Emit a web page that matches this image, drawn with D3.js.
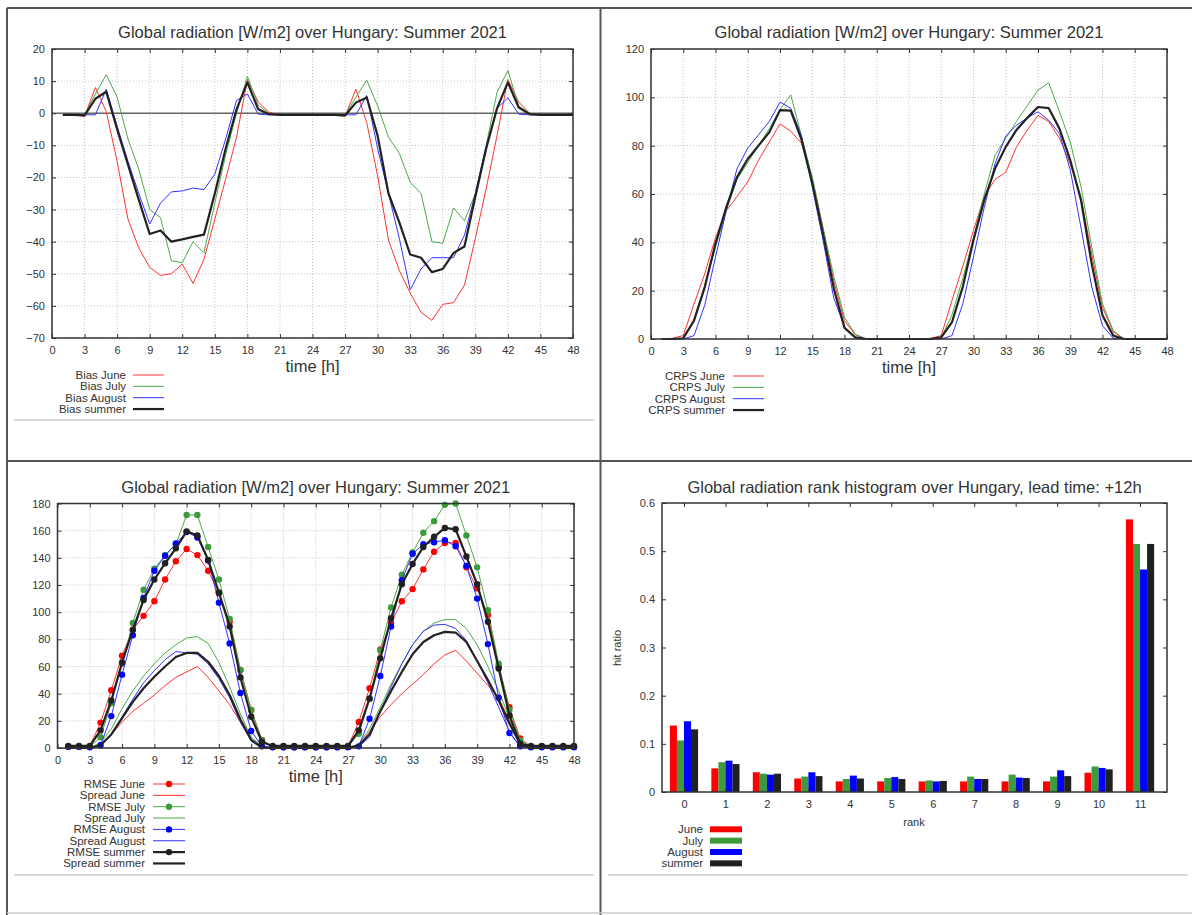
<html>
<head>
<meta charset="UTF-8" />
<script src="https://cdnjs.cloudflare.com/ajax/libs/d3/7.8.5/d3.min.js"></script>
<style>
  body { margin: 0; background: #fff; }
  svg text { font-family: "Liberation Sans", Arial, sans-serif; fill: #333; }
</style>
</head>
<body>
<svg id="page" width="1192" height="915"></svg>
<script>
// ---- data ----
const hours = d3.range(1, 49);
const timeTicks = [0, 3, 6, 9, 12, 15, 18, 21, 24, 27, 30, 33, 36, 39, 42, 45, 48];

const biasJune = [-0.5, -0.5, -1, 8, 0.5, -15, -33, -42, -48, -50.5, -50, -47,
  -53, -45.5, -33, -20.5, -7.5, 10.5, 3.5, 0.3, -0.5, -0.5, -0.5, -0.5,
  -0.5, -0.5, -1, 7.5, -3, -19.5, -39.5, -49, -56, -62, -64.5, -59.5,
  -59, -53.5, -39, -23.5, -7, 10.5, 3.5, 0, -0.5, -0.5, -0.5, -0.5];
const biasJuly = [-0.5, -0.5, -0.5, 6, 12, 5, -8, -17.5, -30, -32.5, -46, -46.5,
  -40, -43.5, -28, -13, 0, 11.5, 2.5, 0, -0.5, -0.5, -0.5, -0.5,
  -0.5, -0.5, -0.5, 5, 10.3, 2.3, -7.5, -12.5, -21.5, -25, -40, -40.5,
  -29.5, -33.5, -25, -10, 6.5, 13.3, 2.3, 0, -0.5, -0.5, -0.5, -0.5];
const biasAugust = [-0.5, -0.5, -0.5, -0.5, 7.5, -4, -15, -25, -34.5, -28, -24.5, -24.2,
  -23.3, -23.8, -19, -8, 4, 6, -0.3, -0.5, -0.5, -0.5, -0.5, -0.5,
  -0.5, -0.5, -0.5, -0.5, 5.5, -11, -25, -39, -55, -48.5, -45, -45,
  -45, -38, -25, -10.5, 1.5, 4.8, -0.3, -0.5, -0.5, -0.5, -0.5, -0.5];
const biasSummer = [-0.5, -0.5, -0.7, 4.5, 6.7, -5, -16, -27, -37.6, -36.5, -40, -39.3,
  -38.5, -37.8, -25, -11, 1.2, 9.6, 1.2, -0.3, -0.5, -0.5, -0.5, -0.5,
  -0.5, -0.5, -0.7, 3.3, 4.9, -7, -25, -34, -44, -45, -49.5, -48.5,
  -43.5, -41.5, -26, -11, 1.5, 9.6, 1.8, -0.3, -0.5, -0.5, -0.5, -0.5];

const crpsJune = [0, 0.3, 1.4, 14.5, 27, 42, 53, 59, 65, 74, 81.5, 89,
  86, 81, 66.5, 46, 24, 7.5, 1.8, 0, 0, 0, 0, 0,
  0, 0.3, 1.4, 16, 30, 45, 59, 66, 69, 79.5, 86.5, 92.5,
  90, 83, 72.5, 58.5, 35, 13, 3, 0, 0, 0, 0, 0];
const crpsJuly = [0, 0, 0.3, 8, 22, 38, 53, 66, 73, 80, 87, 95,
  101, 84, 67, 46, 26, 9, 2, 0, 0, 0, 0, 0,
  0, 0, 0.5, 10, 25, 42, 60, 76, 83, 90, 96.5, 103,
  106, 94, 81.5, 63, 38, 14.5, 3.5, 0, 0, 0, 0, 0];
const crpsAugust = [0, 0, 0, 1.4, 14, 34, 53, 70.5, 79, 84.5, 90, 98,
  95.5, 84, 63, 41, 17, 5, 0.3, 0, 0, 0, 0, 0,
  0, 0, 0, 1.4, 14.5, 34, 54.5, 72.5, 84, 88.5, 91.5, 94,
  90.5, 85, 70, 46, 21.5, 5.5, 0.3, 0, 0, 0, 0, 0];
const crpsSummer = [0, 0, 0.3, 7.6, 21.5, 39.5, 54.5, 67, 74.5, 80, 85.5, 94.7,
  94.5, 82.5, 64.5, 43.5, 21, 4.6, 0.7, 0, 0, 0, 0, 0,
  0, 0, 0.7, 7, 21.5, 41, 57.5, 70.5, 79.5, 86.5, 91.5, 96,
  95.5, 87, 74, 57.5, 31, 9.7, 1.4, 0, 0, 0, 0, 0];

const rmseJune = [1, 1, 1.2, 18.7, 42.5, 68, 87, 97.3, 108, 124, 137.5, 146.5,
  142, 130.5, 114, 93, 57.5, 28, 6, 0.7, 0.5, 0.5, 0.5, 0.5,
  0.5, 0.5, 1, 19.2, 44, 72.5, 92, 108, 117, 131.5, 144.5, 151,
  151, 133, 117.5, 98, 60, 30, 7, 1, 1, 1, 1, 1];
const spreadJune = [0, 0, 0, 3, 10, 19, 27, 33, 39, 46, 52, 56,
  60, 52, 42, 32, 19, 6, 0.5, 0, 0, 0, 0, 0,
  0, 0, 0, 2, 12, 23, 32, 40, 47, 54, 62, 68.5,
  72, 64, 55, 46, 37, 20, 3, 0, 0, 0, 0, 0];
const rmseJuly = [1, 1, 1, 8, 33, 62, 92, 116.5, 132, 142, 150, 171.5,
  171.5, 148, 124, 95, 57.5, 28, 5.7, 1, 1, 1, 1, 1,
  1, 1, 1, 10.5, 36, 72, 103.5, 127.5, 144, 158.5, 167, 179,
  180, 156.5, 133, 101.5, 62, 28, 5.7, 1, 1, 1, 1, 1];
const spreadJuly = [0, 0, 0, 4, 14, 29, 42, 53, 62, 70, 76, 81,
  82, 77, 63, 45, 25, 8, 1, 0, 0, 0, 0, 0,
  0, 0, 0, 3, 14, 30, 47, 62, 76, 86, 92, 94.5,
  94.5, 88, 76, 60, 42, 22, 4, 0, 0, 0, 0, 0];
const rmseAugust = [1, 1, 0.5, 2, 23.5, 54, 83, 110.5, 130.5, 141.5, 150.5, 159,
  155, 138, 107, 77, 40.5, 12.5, 1.2, 0.5, 0.5, 0.5, 0.5, 0.5,
  0.5, 0.5, 0.5, 1.2, 21.5, 53, 89.5, 123.5, 143, 150, 151.5, 153,
  148.5, 134, 110, 76.5, 37, 11, 1.2, 0.5, 0.5, 0.5, 0.5, 0.5];
const spreadAugust = [0, 0, 0, 2, 10, 23, 36, 48, 57, 65, 71, 70,
  69, 62, 51, 37, 19, 5, 0, 0, 0, 0, 0, 0,
  0, 0, 0, 1, 8, 27, 45, 62, 76, 86, 90.5, 91,
  88, 79, 64, 48, 30, 12, 1, 0, 0, 0, 0, 0];
const rmseSummer = [1.5, 1.5, 1.5, 13, 35, 63, 87, 109, 124, 136, 147, 159.5,
  156.5, 138.5, 114.5, 89.5, 52, 23, 4.4, 1.5, 1.5, 1.5, 1.5, 1.5,
  1.5, 1.5, 1.5, 13, 36.5, 66, 95.5, 120.5, 135.5, 148, 155.5, 162,
  161, 141, 120.5, 93, 58.5, 24, 3.2, 1.5, 1.5, 1.5, 1.5, 1.5];
const spreadSummer = [0, 0, 0, 2, 10, 22, 34, 44, 52.5, 60, 67, 70,
  70, 63.5, 53, 39, 21, 6, 0.5, 0, 0, 0, 0, 0,
  0, 0, 0, 2, 10, 27, 42, 56, 69, 78, 83, 85.5,
  85, 78, 64, 50, 35, 18, 3, 0, 0, 0, 0, 0];

const ranks = [0, 1, 2, 3, 4, 5, 6, 7, 8, 9, 10, 11];
const hitJune = [0.138, 0.049, 0.041, 0.028, 0.022, 0.022, 0.022, 0.022, 0.022, 0.022, 0.040, 0.566];
const hitJuly = [0.107, 0.062, 0.038, 0.032, 0.027, 0.029, 0.024, 0.032, 0.036, 0.032, 0.053, 0.515];
const hitAugust = [0.147, 0.065, 0.036, 0.041, 0.034, 0.031, 0.022, 0.027, 0.030, 0.045, 0.050, 0.462];
const hitSummer = [0.130, 0.058, 0.038, 0.033, 0.028, 0.027, 0.023, 0.027, 0.029, 0.033, 0.047, 0.515];

const monthNames = ["June", "July", "August", "summer"];
const colors = ["#ff0000", "#3c9c3c", "#0000ff", "#202020"];
const lineColors = ["#ff3333", "#4caa4c", "#3333ff", "#222222"];
const title = "Global radiation [W/m2] over Hungary: Summer 2021";

const svg = d3.select("#page");

// page frame / cell dividers
const frame = svg.append("g").attr("stroke", "#555").attr("stroke-width", 2);
frame.append("line").attr("x1", 7).attr("x2", 1192).attr("y1", 8).attr("y2", 8);
frame.append("line").attr("x1", 7).attr("x2", 7).attr("y1", 8).attr("y2", 915);
frame.append("line").attr("x1", 600.5).attr("x2", 600.5).attr("y1", 8).attr("y2", 915);
frame.append("line").attr("x1", 7).attr("x2", 1192).attr("y1", 461).attr("y2", 461);
const sep = svg.append("g").attr("stroke", "#ccc").attr("stroke-width", 1.5);
sep.append("line").attr("x1", 14).attr("x2", 594).attr("y1", 420).attr("y2", 420);
sep.append("line").attr("x1", 14).attr("x2", 594).attr("y1", 875).attr("y2", 875);
sep.append("line").attr("x1", 608).attr("x2", 1188).attr("y1", 875).attr("y2", 875);
sep.append("line").attr("x1", 7).attr("x2", 1192).attr("y1", 913).attr("y2", 913);

function styleAxis(sel) {
  sel.select(".domain").remove();
  sel.selectAll("line").attr("stroke", "#333");
  sel.selectAll("text").attr("font-size", 11).attr("font-family", null).attr("fill", "#444");
}

// axes with gnuplot-like inward ticks on all four sides
function drawAxes(g, x, y, xVals, yVals, yFmt, box) {
  g.append("g").attr("transform", `translate(0,${box.bottom})`)
    .call(d3.axisBottom(x).tickValues(xVals).tickSize(-4).tickPadding(8).tickFormat(d3.format("d")))
    .call(styleAxis);
  g.append("g").attr("transform", `translate(0,${box.top})`)
    .call(d3.axisTop(x).tickValues(xVals).tickSize(-4).tickFormat(""))
    .call(styleAxis);
  g.append("g").attr("transform", `translate(${box.left},0)`)
    .call(d3.axisLeft(y).tickValues(yVals).tickSize(-4).tickPadding(7).tickFormat(yFmt))
    .call(styleAxis);
  g.append("g").attr("transform", `translate(${box.right},0)`)
    .call(d3.axisRight(y).tickValues(yVals).tickSize(-4).tickFormat(""))
    .call(styleAxis);
}

function linePanel(opt) {
  const x = d3.scaleLinear().domain([0, 48]).range([opt.left, opt.right]);
  const y = d3.scaleLinear().domain(opt.yDomain).range([opt.bottom, opt.top]);
  const g = svg.append("g");

  g.append("g").selectAll("line").data(timeTicks).enter().append("line")
    .attr("x1", d => x(d)).attr("x2", d => x(d))
    .attr("y1", opt.top).attr("y2", opt.bottom)
    .attr("stroke", "#c4c4c4").attr("stroke-dasharray", "1,2");
  g.append("g").selectAll("line").data(opt.yTicks).enter().append("line")
    .attr("x1", opt.left).attr("x2", opt.right)
    .attr("y1", d => y(d)).attr("y2", d => y(d))
    .attr("stroke", "#c4c4c4").attr("stroke-dasharray", "1,2");

  if (opt.zeroLine) {
    g.append("line").attr("x1", opt.left).attr("x2", opt.right)
      .attr("y1", y(0)).attr("y2", y(0))
      .attr("stroke", "#666").attr("stroke-width", 1.5);
  }

  drawAxes(g, x, y, timeTicks, opt.yTicks, d3.format("d"), opt);

  const line = d3.line().x((d, i) => x(hours[i])).y(d => y(d));
  opt.series.forEach(s => {
    g.append("path").datum(s.values)
      .attr("d", line)
      .attr("fill", "none")
      .attr("stroke", s.color)
      .attr("stroke-width", s.width)
      .attr("stroke-linejoin", "round");
    if (s.dots) {
      g.append("g").selectAll("circle").data(s.values).enter().append("circle")
        .attr("cx", (d, i) => x(hours[i]))
        .attr("cy", d => y(d))
        .attr("r", 3.2)
        .attr("fill", s.dotColor);
    }
  });

  g.append("rect")
    .attr("x", opt.left).attr("y", opt.top)
    .attr("width", opt.right - opt.left).attr("height", opt.bottom - opt.top)
    .attr("fill", "none").attr("stroke", "#333").attr("stroke-width", 1.5);

  g.append("text")
    .attr("x", (opt.left + opt.right) / 2).attr("y", opt.titleY).attr("dy", "0.35em")
    .attr("text-anchor", "middle").attr("font-size", 16.5).text(title);
  g.append("text")
    .attr("x", (opt.left + opt.right) / 2).attr("y", opt.bottom + 28).attr("dy", "0.35em")
    .attr("text-anchor", "middle").attr("font-size", 16.5).text("time [h]");

  // key
  opt.series.forEach((s, i) => {
    const ly = opt.legY + i * 11.35;
    g.append("text").attr("x", opt.legText).attr("y", ly).attr("dy", "0.35em")
      .attr("text-anchor", "end").attr("font-size", 11.5).attr("fill", "#444").text(s.name);
    g.append("line").attr("x1", opt.legLine[0]).attr("x2", opt.legLine[1])
      .attr("y1", ly).attr("y2", ly)
      .attr("stroke", s.color).attr("stroke-width", s.width);
    if (s.dots) {
      g.append("circle").attr("cx", (opt.legLine[0] + opt.legLine[1]) / 2).attr("cy", ly)
        .attr("r", 3.2).attr("fill", s.dotColor);
    }
  });
}

function monthSeries(prefix, arrays, dots) {
  return arrays.map((v, i) => ({
    name: prefix + " " + monthNames[i], values: v, color: lineColors[i],
    dotColor: colors[i], width: i === 3 ? 2.2 : 1, dots: dots
  }));
}

// top left: bias
linePanel({
  left: 52, right: 573, top: 49, bottom: 338, titleY: 32,
  yDomain: [-70, 20], yTicks: [-70, -60, -50, -40, -30, -20, -10, 0, 10, 20],
  zeroLine: true,
  series: monthSeries("Bias", [biasJune, biasJuly, biasAugust, biasSummer], false),
  legY: 375, legText: 126, legLine: [133, 164]
});

// top right: CRPS
linePanel({
  left: 651, right: 1167, top: 49, bottom: 339, titleY: 32,
  yDomain: [0, 120], yTicks: [0, 20, 40, 60, 80, 100, 120],
  series: monthSeries("CRPS", [crpsJune, crpsJuly, crpsAugust, crpsSummer], false),
  legY: 376, legText: 725, legLine: [733, 764]
});

// bottom left: RMSE (with dots) and spread, per month
const rmse = [rmseJune, rmseJuly, rmseAugust, rmseSummer];
const spread = [spreadJune, spreadJuly, spreadAugust, spreadSummer];
const rsSeries = [];
monthNames.forEach((m, i) => {
  const w = i === 3 ? 2.2 : 1;
  rsSeries.push({ name: "RMSE " + m, values: rmse[i], color: lineColors[i], dotColor: colors[i], width: w, dots: true });
  rsSeries.push({ name: "Spread " + m, values: spread[i], color: lineColors[i], width: w, dots: false });
});
linePanel({
  left: 57.5, right: 574, top: 503.5, bottom: 748, titleY: 487,
  yDomain: [0, 180], yTicks: [0, 20, 40, 60, 80, 100, 120, 140, 160, 180],
  series: rsSeries,
  legY: 784, legText: 145, legLine: [153, 185]
});

// bottom right: rank histogram
(function () {
  const box = { left: 662, right: 1167, top: 503, bottom: 792 };
  const x = d3.scaleLinear().domain([-0.53, 11.65]).range([box.left, box.right]);
  const y = d3.scaleLinear().domain([0, 0.6]).range([box.bottom, box.top]);
  const g = svg.append("g");
  const hits = [hitJune, hitJuly, hitAugust, hitSummer];
  const bw = 0.17;

  hits.forEach((vals, j) => {
    g.append("g").selectAll("rect").data(vals).enter().append("rect")
      .attr("x", (d, i) => x(ranks[i] - 2 * bw + j * bw))
      .attr("width", x(bw) - x(0))
      .attr("y", d => y(d))
      .attr("height", d => y(0) - y(d))
      .attr("fill", colors[j]);
  });

  drawAxes(g, x, y, ranks, [0, 0.1, 0.2, 0.3, 0.4, 0.5, 0.6],
    d => (d === 0 ? "0" : d.toFixed(1)), box);

  g.append("rect")
    .attr("x", box.left).attr("y", box.top)
    .attr("width", box.right - box.left).attr("height", box.bottom - box.top)
    .attr("fill", "none").attr("stroke", "#333").attr("stroke-width", 1.5);

  g.append("text").attr("x", (box.left + box.right) / 2).attr("y", 487).attr("dy", "0.35em")
    .attr("text-anchor", "middle").attr("font-size", 16.5)
    .text("Global radiation rank histogram over Hungary, lead time: +12h");
  g.append("text").attr("x", 914).attr("y", 822).attr("dy", "0.35em")
    .attr("text-anchor", "middle").attr("font-size", 11).attr("fill", "#444").text("rank");
  g.append("text").attr("transform", "translate(617,648) rotate(-90)").attr("dy", "0.35em")
    .attr("text-anchor", "middle").attr("font-size", 11).attr("fill", "#444").text("hit ratio");

  monthNames.forEach((m, i) => {
    const ly = 829.3 + i * 11.35;
    g.append("text").attr("x", 703).attr("y", ly).attr("dy", "0.35em")
      .attr("text-anchor", "end").attr("font-size", 11.5).attr("fill", "#444").text(m);
    g.append("rect").attr("x", 710).attr("y", ly - 3).attr("width", 32).attr("height", 6)
      .attr("fill", colors[i]);
  });
})();
</script>
</body>
</html>
